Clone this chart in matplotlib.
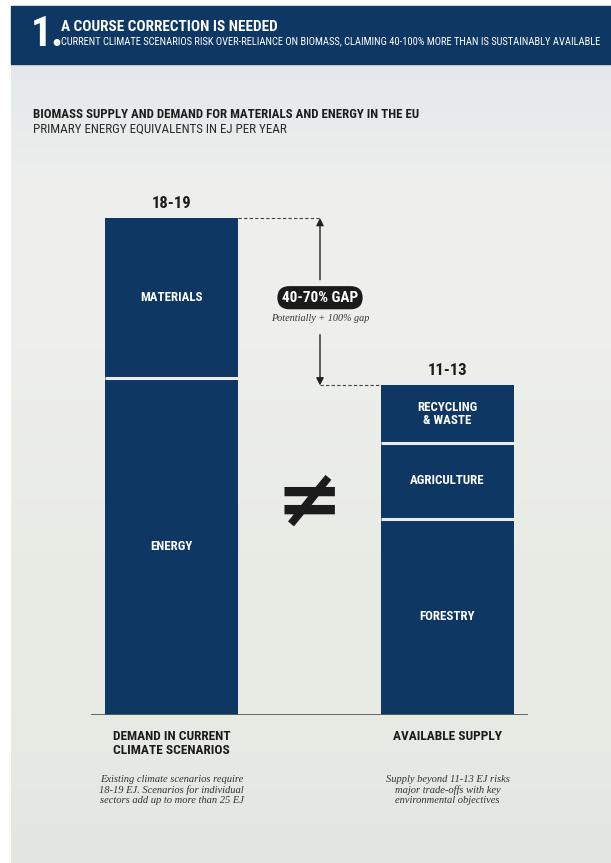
import numpy as np
import matplotlib.pyplot as plt
from matplotlib.patches import Rectangle
from matplotlib.colors import to_rgb

navy = '#0e3763'
ink = '#1c1c1c'
cond = ['Roboto Condensed', 'Roboto', 'DejaVu Sans']
serif = ['Liberation Serif', 'DejaVu Serif']

# EJ per year, stacked from the bottom up
demand_parts = ['ENERGY', 'MATERIALS']
demand_values = [12.9, 6.1]
supply_parts = ['FORESTRY', 'AGRICULTURE', 'RECYCLING\n& WASTE']
supply_values = [7.5, 2.9, 2.2]
bar_labels = ['DEMAND IN CURRENT\nCLIMATE SCENARIOS', 'AVAILABLE SUPPLY']
range_labels = ['18-19', '11-13']
notes = ['Existing climate scenarios require\n18-19 EJ. Scenarios for individual\nsectors add up to more than 25 EJ',
         'Supply beyond 11-13 EJ risks\nmajor trade-offs with key\nenvironmental objectives']
gap_label = '40-70% GAP'
gap_note = 'Potentially + 100% gap'

W, H = 611, 863
fig = plt.figure(figsize=(W / 100, H / 100), dpi=100)
fig.patch.set_facecolor('white')
renderer = fig.canvas.get_renderer()


def fit(txt, max_px):
    # shrink a text until it is no wider than max_px
    w = txt.get_window_extent(renderer).width
    if w > max_px:
        txt.set_fontsize(txt.get_fontsize() * max_px / w)


# page layer in pixel units
bg = fig.add_axes([0, 0, 1, 1])
bg.set_xlim(0, W)
bg.set_ylim(H, 0)
bg.axis('off')

# misty backdrop: cool grey at the top, whiter band, then soft green-grey
stops_y = [64, 200, 350, 550, 715, 863]
stops_c = [to_rgb(c) for c in ['#e4e8ea', '#eff0ee', '#eeefec', '#e9ebe5', '#e8eae4', '#e4e6e2']]
rows = np.linspace(64, H, 400)
col = np.stack([np.interp(rows, stops_y, [c[i] for c in stops_c]) for i in range(3)], axis=-1)
img = np.repeat(col[:, None, :], 2, axis=1)
bg.imshow(img, extent=[11, W, H, 64], aspect='auto', interpolation='bilinear', zorder=0)

# header band
bg.add_patch(Rectangle((11, 6), W - 11, 58, color=navy, zorder=1))
bg.text(31, 35, '1.', color='white', fontsize=30, fontweight='bold', family=cond,
        va='center', ha='left', zorder=2)
bg.text(61, 27, 'A COURSE CORRECTION IS NEEDED', color='white', fontsize=11, fontweight='bold',
        family=cond, va='center', ha='left', zorder=2)
sub = bg.text(61, 41.5, 'CURRENT CLIMATE SCENARIOS RISK OVER-RELIANCE ON BIOMASS, CLAIMING 40-100% MORE THAN IS SUSTAINABLY AVAILABLE',
              color='white', fontsize=8.5, family=cond, va='center', ha='left', zorder=2)
fit(sub, 541)

# chart heading
head = bg.text(33, 114, 'BIOMASS SUPPLY AND DEMAND FOR MATERIALS AND ENERGY IN THE EU', color=ink,
               fontsize=10, fontweight='bold', family=cond, va='center', ha='left')
fit(head, 385)
unit = bg.text(33, 129, 'PRIMARY ENERGY EQUIVALENTS IN EJ PER YEAR', color='#2a2a2a',
               fontsize=10, family=cond, va='center', ha='left')
fit(unit, 255)

# chart area: x in page pixels, y in EJ
px_per = 497 / 19
ax = fig.add_axes([91 / W, 1 - 715 / H, (528 - 91) / W, (715 - 150) / H])
ax.set_xlim(91, 528)
ax.set_ylim(0, (715 - 150) / px_per)
ax.axis('off')
ax.patch.set_alpha(0)

centers = [171.5, 447.5]
width = 133
stacks = [(demand_values, demand_parts), (supply_values, supply_parts)]
totals = []
for center, (values, names), rlab, blab, note in zip(centers, stacks, range_labels, bar_labels, notes):
    bottom = 0
    for v, name in zip(values, names):
        ax.bar(center, v, width, bottom=bottom, color=navy, zorder=2)
        ax.text(center, bottom + v / 2, name, color='white', fontsize=9.3, fontweight='bold',
                family=cond, ha='center', va='center', linespacing=1.05, zorder=3)
        bottom += v
    cuts = np.cumsum(values)[:-1]
    ax.hlines(cuts, center - width / 2, center + width / 2, color='#e8ebe7', lw=2.2, zorder=3)
    totals.append(bottom)
    ax.annotate(rlab, (center, bottom), xytext=(0, 7), textcoords='offset pixels', ha='center',
                va='bottom', fontsize=12, fontweight='bold', family=cond, color=ink)
    ax.annotate(blab, (center, 0), xytext=(0, -15), textcoords='offset pixels', ha='center',
                va='top', fontsize=9.6, fontweight='bold', family=cond, color=ink, linespacing=1.1)
    ax.annotate(note, (center, 0), xytext=(0, -60), textcoords='offset pixels', ha='center',
                va='top', fontsize=7.6, style='italic', family=serif, color='#333333', linespacing=1.15)

ax.axhline(0, color='#5a5a5a', lw=1.3, zorder=4)

# gap between demand and supply
gx = 320
demand_total, supply_total = totals
ax.plot([centers[0] + width / 2, gx], [demand_total] * 2, ls=(0, (3, 2)), color='#444444', lw=0.8)
ax.plot([gx, centers[1] - width / 2], [supply_total] * 2, ls=(0, (3, 2)), color='#444444', lw=0.8)
mid = (demand_total + supply_total) / 2
arrow = dict(arrowstyle='-|>', color='#222222', lw=1, mutation_scale=11, shrinkA=0, shrinkB=0)
ax.annotate('', xy=(gx, demand_total), xytext=(gx, mid + 22 / px_per), arrowprops=arrow)
ax.annotate('', xy=(gx, supply_total), xytext=(gx, mid - 33 / px_per), arrowprops=arrow)
ax.annotate(gap_label, (gx, mid), xytext=(0, 4), textcoords='offset pixels', ha='center', va='center',
            fontsize=11, fontweight='bold', family=cond, color='white',
            bbox=dict(boxstyle='round,pad=0.3,rounding_size=0.8', fc='#1b1b1b', ec='none'))
ax.annotate(gap_note, (gx, mid), xytext=(0, -17), textcoords='offset pixels', ha='center', va='center',
            fontsize=7.3, style='italic', family=serif, color='#333333')

# not-equal sign between the two bars
ax.text(309, (715 - 504) / px_per, '\u2260', fontsize=58, fontweight='bold', color=ink,
        ha='center', va='center')

fig.savefig('out.png', dpi=100)
